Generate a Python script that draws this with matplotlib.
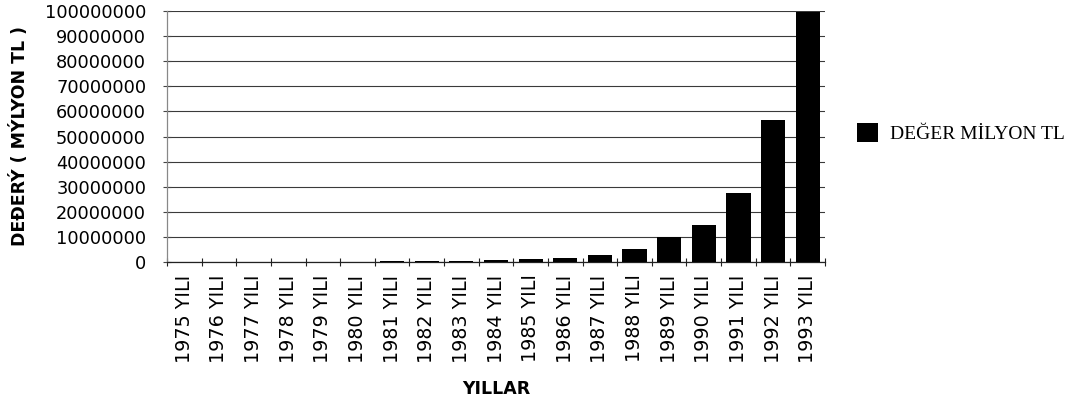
import matplotlib
matplotlib.use("Agg")
import matplotlib.pyplot as plt
from matplotlib.ticker import FixedLocator, NullFormatter

years = list(range(1975, 1994))
tick_labels = [f"{y} YILI" for y in years]
values = [10000, 15000, 20000, 40000, 70000, 150000, 200000, 250000, 350000,
          600000, 1000000, 1600000, 2600000, 5300000, 9900000, 14600000,
          27600000, 56600000, 99800000]
y_ticks = list(range(0, 100000001, 10000000))
series_name = "DEĞER MİLYON TL"
y_title = "DEĐERÝ ( MÝLYON TL )"
x_title = "YILLAR"

W, H, DPI = 1075, 403, 100
fig = plt.figure(figsize=(W / DPI, H / DPI), dpi=DPI)
ax = fig.add_axes([167 / W, 1 - 262 / H, (825 - 167) / W, (262 - 11) / H])

x = list(range(len(years)))
ax.set_axisbelow(True)
ax.bar(x, values, width=0.7, color="black", label=series_name, zorder=3)

ax.set_xlim(-0.5, len(years) - 0.5)
ax.set_ylim(0, 100000000)

# y axis
ax.set_yticks(y_ticks)
ax.set_yticklabels([str(v) for v in y_ticks], fontsize=12.8, family="DejaVu Sans")
ax.tick_params(axis="y", direction="inout", length=6, width=0.8, pad=12, color="#444")
ax.yaxis.grid(True, color="#3a3a3a", linewidth=0.8)

# x axis: labels at category centres, ticks at boundaries
ax.set_xticks(x)
ax.set_xticklabels(tick_labels, rotation=90, fontsize=13.8, family="DejaVu Sans")
ax.tick_params(axis="x", which="major", length=0, pad=9)
ax.xaxis.set_minor_locator(FixedLocator([i - 0.5 for i in range(len(years) + 1)]))
ax.xaxis.set_minor_formatter(NullFormatter())
ax.tick_params(axis="x", which="minor", direction="inout", length=6, width=0.8, color="#222")

for s in ("top", "right"):
    ax.spines[s].set_visible(False)
ax.spines["left"].set_color("#888")
ax.spines["left"].set_linewidth(0.9)
ax.spines["bottom"].set_color("#222")
ax.spines["bottom"].set_linewidth(0.9)

ax.set_ylabel(y_title, fontsize=12.5, fontweight="bold", family="DejaVu Sans")
ax.yaxis.set_label_coords(-0.21, 0.5)
ax.set_xlabel(x_title, fontsize=12.5, fontweight="bold", family="DejaVu Sans", va="top")
ax.xaxis.set_label_coords(0.5, -0.47)

fig.legend(loc="center left", bbox_to_anchor=(857 / W, 1 - 133 / H),
           frameon=False, borderpad=0, borderaxespad=0,
           handlelength=1.1, handleheight=1.1, handletextpad=0.62,
           prop={"family": "Liberation Serif", "size": 14})

fig.savefig("out.png", dpi=DPI)
